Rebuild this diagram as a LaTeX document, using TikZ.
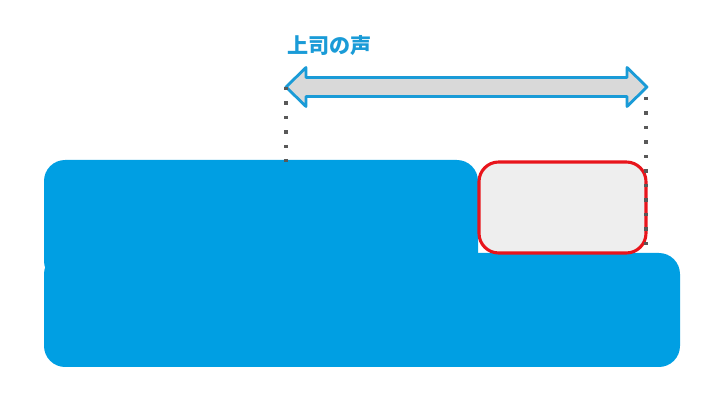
\documentclass[tikz,border=0pt]{standalone}
\usepackage{fontspec}
\newfontfamily\jpfont{Noto Sans CJK JP}
\usetikzlibrary{calc}
\definecolor{voiceblue}{HTML}{009FE3}
\definecolor{edgeblue}{HTML}{1A9BD7}
\definecolor{arrowgray}{HTML}{D9D9D9}
\definecolor{boxgray}{HTML}{EEEEEE}
\definecolor{boxred}{HTML}{E8141B}
\definecolor{dotgray}{HTML}{595959}

\begin{document}
\begin{tikzpicture}[x=0.025cm,y=-0.025cm,line join=round]
		
		\useasboundingbox (0,0) rectangle (719,406);
		
		% Blocks
		\fill[voiceblue,rounded corners=15] (44,160) rectangle (478,282);
		\fill[voiceblue,rounded corners=15] (44,253) rectangle (680,367);
		\draw[boxred,line width=2.2pt,fill=boxgray,rounded corners=14]
		(479,162) rectangle (646,253);
		
		% Ends of the arrow
		\coordinate (L) at (286,87);
		\coordinate (R) at (647,87);
		
		% Double arrow (shaft half-width 9.5, head half-width 19.5, head length 20)
		\draw[edgeblue,line width=2pt,fill=arrowgray]
		(L) -- ++(20,-19.5) -- ++(0,10) -- ($(R)+(-20,-9.5)$) -- ++(0,-10)
		-- (R) -- ++(-20,19.5) -- ++(0,-10) -- ($(L)+(20,9.5)$) -- ++(0,10) -- cycle;
		
		% Label
		\node[anchor=west,text=edgeblue,font=\jpfont\bfseries\fontsize{15}{17}\selectfont,inner sep=0pt]
		(voice) at (287,46) {上司の声};
		
		% Dotted guides down to the blocks
		\coordinate (Lb) at (286,162);
		\coordinate (Rb) at (646,246);
		\draw[dotgray,line width=2.4pt,dash pattern=on 2.4pt off 7.9pt] (L) -- (Lb);
		\draw[dotgray,line width=2.4pt,dash pattern=on 2.4pt off 7.9pt] ($(R)+(-1,10)$) -- (Rb);
		
	\end{tikzpicture}
\end{document}
